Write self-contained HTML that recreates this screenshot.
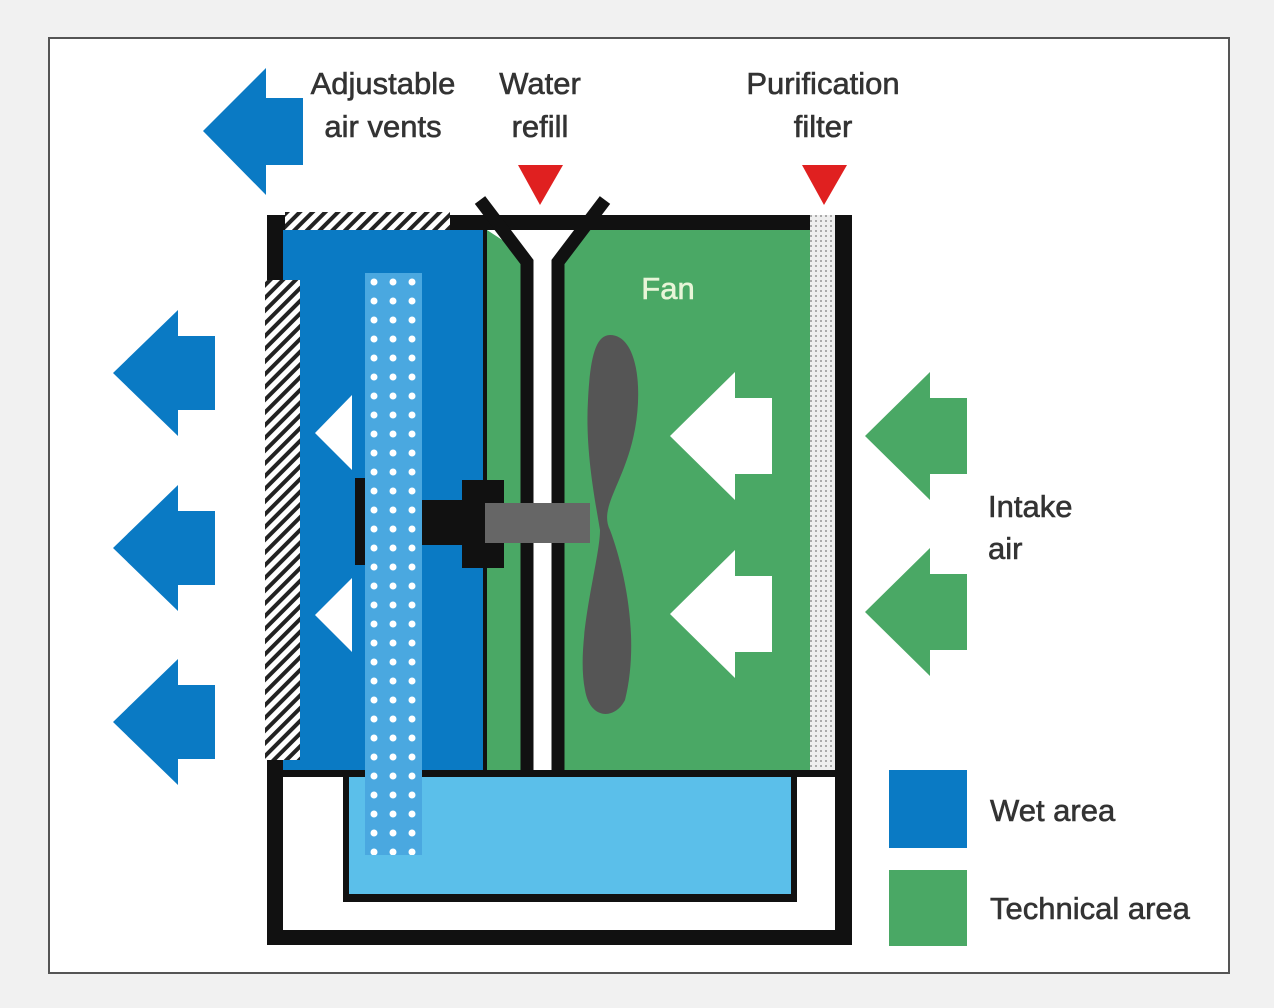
<!DOCTYPE html>
<html><head><style>
html,body{margin:0;padding:0;background:#f1f1f1;}
svg{display:block}
text{font-family:"Liberation Sans",sans-serif;font-size:31px;fill:#333;stroke:#333;stroke-width:0.6px;}
</style></head><body>
<svg width="1274" height="1008" viewBox="0 0 1274 1008" xmlns="http://www.w3.org/2000/svg">
<defs>
<pattern id="hatch" width="9" height="9" patternUnits="userSpaceOnUse" patternTransform="rotate(45)">
<rect width="9" height="9" fill="#fff"/><rect width="4" height="9" fill="#222"/>
</pattern>
<pattern id="dots" width="19" height="19" patternUnits="userSpaceOnUse" x="365" y="273">
<circle cx="9" cy="9" r="3.5" fill="#fff"/>
</pattern>
<pattern id="mesh" width="5" height="5" patternUnits="userSpaceOnUse">
<rect width="5" height="5" fill="#eee"/><rect width="2" height="2" fill="#aaa"/>
</pattern>
</defs>
<rect x="0" y="0" width="1274" height="1008" fill="#f1f1f1"/>
<rect x="49" y="38" width="1180" height="935" fill="#fff" stroke="#555" stroke-width="2"/>

<rect x="267" y="215" width="585" height="730" fill="#111"/>
<rect x="283" y="230" width="552" height="700" fill="#fff"/>
<rect x="283" y="230" width="200" height="540" fill="#0a7ac4"/>
<rect x="483" y="230" width="327" height="540" fill="#4aa865"/>
<rect x="483" y="230" width="4" height="540" fill="#111"/>
<rect x="810" y="215" width="25" height="555" fill="url(#mesh)"/>
<rect x="283" y="770" width="552" height="7" fill="#111"/>
<rect x="343" y="777" width="454" height="125" fill="#111"/>
<rect x="349" y="777" width="442" height="117" fill="#5bbfea"/>
<rect x="285" y="212" width="165" height="18" fill="url(#hatch)"/>
<rect x="265" y="280" width="35" height="480" fill="url(#hatch)"/>

<rect x="365" y="273" width="57" height="582" fill="#4aa8e0"/>
<rect x="365" y="273" width="57" height="582" fill="url(#dots)"/>

<polygon points="487,230 575,230 555,258 530,258" fill="#fff"/>
<rect x="530" y="258" width="25" height="512" fill="#fff"/>
<polyline points="480,200 527,262 527,770" fill="none" stroke="#111" stroke-width="13"/>
<polyline points="605,200 558,262 558,770" fill="none" stroke="#111" stroke-width="13"/>

<path d="M610,335 C640,335 645,400 630,450 C618,490 600,510 610,530 C625,570 640,640 625,700 C615,720 590,720 585,690 C575,640 600,560 600,530 C595,500 585,450 588,400 C590,360 595,335 610,335 Z" fill="#555"/>
<rect x="485" y="503" width="105" height="40" fill="#666"/>
<rect x="355" y="478" width="10" height="87" fill="#111"/>
<rect x="422" y="500" width="45" height="45" fill="#111"/>
<rect x="462" y="480" width="42" height="88" fill="#111"/>
<rect x="485" y="503" width="20" height="40" fill="#666"/>

<polygon points="670,436 735,372 735,398 772,398 772,474 735,474 735,500" fill="#fff"/>
<polygon points="670,614 735,550 735,576 772,576 772,652 735,652 735,678" fill="#fff"/>
<polygon points="315,433 352,395 352,470" fill="#fff"/>
<polygon points="315,615 352,578 352,652" fill="#fff"/>

<g fill="#0a7ac4">
<polygon points="203,131 266,68 266,98 303,98 303,165 266,165 266,195"/>
<polygon points="113,373 178,310 178,336 215,336 215,410 178,410 178,436"/>
<polygon points="113,548 178,485 178,511 215,511 215,585 178,585 178,611"/>
<polygon points="113,722 178,659 178,685 215,685 215,759 178,759 178,785"/>
</g>
<g fill="#4aa865">
<polygon points="865,436 930,372 930,398 967,398 967,474 930,474 930,500"/>
<polygon points="865,612 930,548 930,574 967,574 967,650 930,650 930,676"/>
</g>
<polygon points="518,165 563,165 540,205" fill="#e02020"/>
<polygon points="802,165 847,165 824,205" fill="#e02020"/>

<rect x="889" y="770" width="78" height="78" fill="#0a7ac4"/>
<rect x="889" y="870" width="78" height="76" fill="#4aa865"/>

<g text-anchor="middle">
<text x="383" y="94">Adjustable</text><text x="383" y="137">air vents</text>
<text x="540" y="94">Water</text><text x="540" y="137">refill</text>
<text x="823" y="94">Purification</text><text x="823" y="137">filter</text>
<text x="668" y="299" style="fill:#e8f5d8;stroke:#e8f5d8">Fan</text>
</g>
<text x="988" y="517">Intake</text><text x="988" y="559">air</text>
<text x="990" y="821">Wet area</text>
<text x="990" y="919">Technical area</text>
</svg>
</body></html>
